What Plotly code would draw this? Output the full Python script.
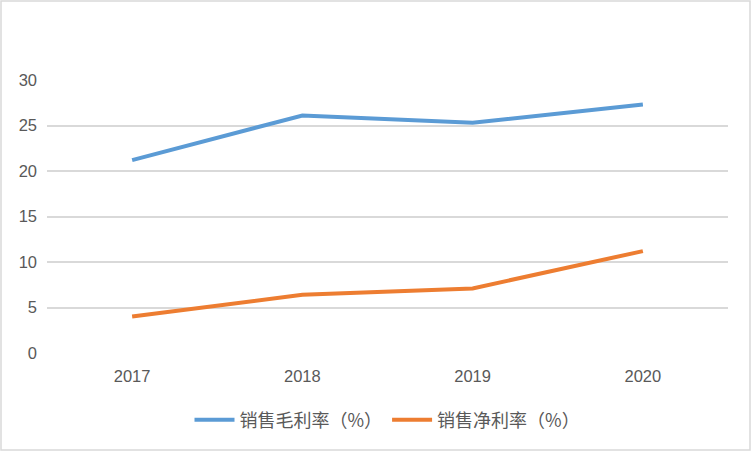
import plotly.graph_objects as go

years = ["2017", "2018", "2019", "2020"]
gross_margin = [21.2, 26.1, 25.3, 27.3]
net_margin = [4.0, 6.4, 7.1, 11.2]
series_names = ["销售毛利率（%）", "销售净利率（%）"]

W, H = 752, 452
L, R, T, B = 47, 24, 80, 99
pw, ph = W - L - R, H - T - B

fig = go.Figure()
fig.add_trace(go.Scatter(x=years, y=gross_margin, mode="lines", name=series_names[0],
                         line=dict(color="#5B9BD5", width=4)))
fig.add_trace(go.Scatter(x=years, y=net_margin, mode="lines", name=series_names[1],
                         line=dict(color="#ED7D31", width=4)))

def px_x(p):
    return (p - L) / pw

def px_y(p):
    return (H - B - p) / ph

fig.add_shape(type="rect", xref="paper", yref="paper",
              x0=px_x(1), x1=px_x(750), y0=px_y(450), y1=px_y(1),
              line=dict(color="#D9D9D9", width=1.5), fillcolor="rgba(0,0,0,0)", layer="below")

fig.update_layout(
    width=W, height=H,
    margin=dict(l=L, r=R, t=T, b=B),
    paper_bgcolor="white", plot_bgcolor="white",
    font=dict(family="Liberation Sans, Noto Sans CJK SC", size=16, color="#595959"),
    showlegend=True,
    legend=dict(orientation="h", x=0.5, xanchor="center", y=px_y(420), yanchor="middle",
                font=dict(family="Noto Sans CJK SC", size=18, color="#595959"),
                itemwidth=40, traceorder="normal"),
    xaxis=dict(type="category", range=[-0.5, 3.5], showgrid=False, showline=False,
               zeroline=False, ticks="", tickfont=dict(size=16.5, color="#595959"), ticklabelstandoff=11),
    yaxis=dict(range=[0, 30], dtick=5, showgrid=True, gridcolor="#D9D9D9", gridwidth=2,
               zeroline=False, showline=False, ticks="", tickfont=dict(size=16.5, color="#595959"),
               ticklabelstandoff=9),
)

fig.write_html("out.html", config={"displayModeBar": False},
               post_script="document.body.style.margin='0';document.body.style.overflow='hidden';")
